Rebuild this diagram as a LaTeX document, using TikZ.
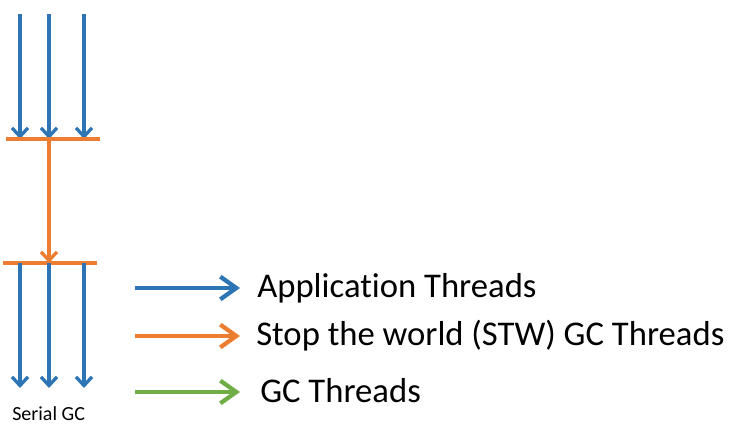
\documentclass[tikz,border=0pt]{standalone}
\usepackage{fontspec}
\setmainfont{Carlito}[Ligatures={NoCommon}]
\usetikzlibrary{arrows.meta}
\definecolor{appblue}{HTML}{2E75B6}
\definecolor{stworange}{HTML}{ED7D31}
\definecolor{gcgreen}{HTML}{70AD47}
\begin{document}
\begin{tikzpicture}[x=0.75pt,y=-0.75pt,
  thr/.style={line width=2.5pt,-{Straight Barb[length=6.5pt,width=12pt]}},
  bar/.style={line width=2.5pt,stworange},
  legarrow/.style={line width=3.2pt,-{Straight Barb[length=12pt,width=17pt]}},
  legtext/.style={anchor=base west,inner sep=0pt,font=\fontsize{26pt}{30pt}\selectfont},
  caption/.style={anchor=base west,inner sep=0pt,font=\fontsize{15pt}{18pt}\selectfont}]
\useasboundingbox (0,0) rectangle (741,427);
% top application threads
\coordinate (t1) at (20,14);
\coordinate (t2) at (49,14);
\coordinate (t3) at (84,14);
\coordinate (e1) at (20,139);
\coordinate (e2) at (49,139);
\coordinate (e3) at (84,139);
\coordinate (b1l) at (6,139);
\coordinate (b1r) at (100,139);
\coordinate (b2l) at (3,263);
\coordinate (b2r) at (97,263);
\coordinate (s2) at (49,263);
\coordinate (u1) at (20,263);
\coordinate (u3) at (84,263);
\coordinate (d1) at (20,388);
\coordinate (d2) at (49,388);
\coordinate (d3) at (84,388);
\draw[thr,appblue] (t1) -- (e1);
\draw[thr,appblue] (t2) -- (e2);
\draw[thr,appblue] (t3) -- (e3);
\draw[bar] (b1l) -- (b1r);
\draw[thr,stworange] (e2) -- (s2);
\draw[bar] (b2l) -- (b2r);
\draw[thr,appblue] (u1) -- (d1);
\draw[thr,appblue] (s2) -- (d2);
\draw[thr,appblue] (u3) -- (d3);
\node[caption] (serial) at (12,420) {Serial GC};
% legend
\node[legtext] (lapp) at (257,297) {Application Threads};
\node[legtext] (lstw) at (256,345) {Stop the world (STW) GC Threads};
\node[legtext] (lgc) at (260,402) {GC Threads};
\coordinate (a1s) at (135,288);
\coordinate (a1e) at (240,288);
\coordinate (a2s) at (135,336);
\coordinate (a2e) at (240,336);
\coordinate (a3s) at (135,392);
\coordinate (a3e) at (240,392);
\draw[legarrow,appblue] (a1s) -- (a1e);
\draw[legarrow,stworange] (a2s) -- (a2e);
\draw[legarrow,gcgreen] (a3s) -- (a3e);
\end{tikzpicture}
\end{document}
